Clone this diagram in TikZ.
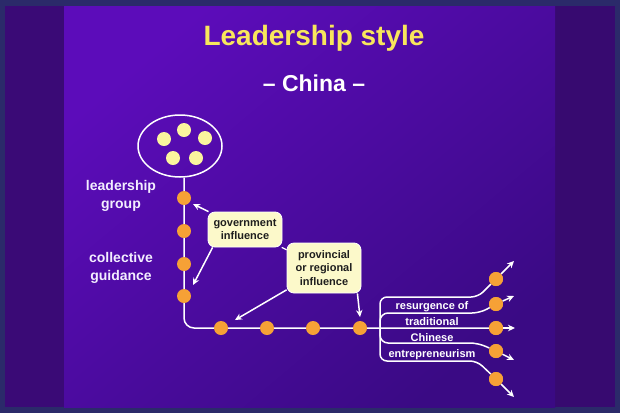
\documentclass[tikz,border=0pt]{standalone}
\usepackage{fontspec}
\setmainfont{Liberation Sans}
\usetikzlibrary{arrows.meta,shapes.geometric}
\definecolor{framec}{HTML}{2B2A6A}
\definecolor{stripl}{HTML}{3A0A76}
\definecolor{stripr}{HTML}{370A70}
\definecolor{slidetl}{HTML}{5C0CBA}
\definecolor{slidebr}{HTML}{3A0A84}
\definecolor{titley}{HTML}{F8E65C}
\definecolor{dotyel}{HTML}{FBF59E}
\definecolor{dotor}{HTML}{F6A136}
\definecolor{boxfill}{HTML}{FCF9CA}
\definecolor{boxtext}{HTML}{1E1E1E}
\definecolor{labelc}{HTML}{F3EEFF}
\begin{document}
\begin{tikzpicture}[x=1pt,y=-1pt,
  wline/.style={draw=white,line width=1.5pt},
  arr/.style={wline,-{Stealth[length=7pt,width=6.5pt]}},
  ydot/.style={circle,fill=dotyel,minimum size=14pt,inner sep=0pt},
  odot/.style={circle,fill=dotor,minimum size=14pt,inner sep=0pt},
  infobox/.style={rounded corners=7pt,fill=boxfill,draw=white,line width=0.8pt,text=boxtext,
    font=\fontsize{11}{13}\selectfont\bfseries,align=center,inner sep=2pt,minimum width=74pt},
  sidelabel/.style={text=labelc,font=\fontsize{14}{17.5}\selectfont\bfseries,align=center},
  brtext/.style={text=white,font=\fontsize{11}{13}\selectfont\bfseries,anchor=base}
]
\useasboundingbox (0,0) rectangle (620,413);
% background
\fill[framec] (0,0) rectangle (620,413);
\fill[stripl] (5,6) rectangle (64,407);
\fill[stripr] (555,6) rectangle (615,407);
\shade[top color=slidetl,bottom color=slidebr,shading angle=40] (64,6) rectangle (555,407);
% titles
\node[anchor=base,text=titley,font=\fontsize{28}{30}\selectfont\bfseries] (title) at (314,45) {Leadership style};
\node[anchor=base,text=white,font=\fontsize{23}{25}\selectfont\bfseries] (sub) at (314,91) {\textendash{} China \textendash};
% leadership group ellipse
\node[ellipse,draw=white,line width=1.5pt,minimum width=84pt,minimum height=62pt,inner sep=0pt] (grp) at (180,146) {};
\node[ydot] (y1) at (184,130) {};
\node[ydot] (y2) at (164,139) {};
\node[ydot] (y3) at (205,138) {};
\node[ydot] (y4) at (173,158) {};
\node[ydot] (y5) at (196,158) {};
% coordinates
\coordinate (cnr) at (184,328);
\coordinate (t1) at (514,261);
\coordinate (t2) at (514,296);
\coordinate (t3) at (515,328);
\coordinate (t4) at (514,360);
\coordinate (t5) at (514,397);
\coordinate (ga) at (193,204);
\coordinate (gb) at (193,285);
\coordinate (pa) at (235,320);
\coordinate (pb) at (360,317);
% right dots (positions)
\path (496,279) node[odot] (r1) {} (496,304) node[odot] (r2) {} (496,328) node[odot] (r3) {}
      (496,351) node[odot] (r4) {} (496,379) node[odot] (r5) {};
% main line
\draw[wline,rounded corners=10pt] (grp.south -| cnr) -- (cnr) -- (r3);
% bracket
\draw[wline,rounded corners=7pt] (r1) -- (478,297) -- (380,297) -- (380,361) -- (477,361) -- (r5);
\draw[wline,rounded corners=8pt] (380,327) -- (380,313) -- (480,313) -- (r2);
\draw[wline,rounded corners=8pt] (380,329) -- (380,343) -- (478,343) -- (r4);
% right arrows
\draw[arr] (r1) -- (t1);
\draw[arr] (r2) -- (t2);
\draw[arr] (r3) -- (t3);
\draw[arr] (r4) -- (t4);
\draw[arr] (r5) -- (t5);
% dots on the line
\node[odot] (o1) at (184,198) {};
\node[odot] (o2) at (184,231) {};
\node[odot] (o3) at (184,264) {};
\node[odot] (o4) at (184,296) {};
\node[odot] (h1) at (221,328) {};
\node[odot] (h2) at (267,328) {};
\node[odot] (h3) at (313,328) {};
\node[odot] (h4) at (360,328) {};
% re-draw right dots on top
\path (496,279) node[odot] {} (496,304) node[odot] {} (496,328) node[odot] {}
      (496,351) node[odot] {} (496,379) node[odot] {};
% info boxes
\node[infobox,minimum height=35pt] (gov) at (245,229.5) {government\\influence};
\node[infobox,minimum height=50pt,font=\fontsize{11}{13.5}\selectfont\bfseries] (prov) at (324,268) {provincial\\or regional\\influence};
\draw[wline,line width=1.2pt] (gov) -- (prov);
\draw[arr] (gov) -- (ga);
\draw[arr] ([xshift=5pt]gov.south west) -- (gb);
\draw[arr] (prov) -- (pa);
\draw[arr] ([xshift=-4pt]prov.south east) -- (pb);
% side labels
\node[sidelabel] (lg) at (121,196) {leadership\\group};
\node[sidelabel] (cg) at (121,268) {collective\\guidance};
% bracket text
\node[brtext] (b1) at (432,309) {resurgence of};
\node[brtext] (b2) at (432,325) {traditional};
\node[brtext] (b3) at (432,341) {Chinese};
\node[brtext] (b4) at (432,357) {entrepreneurism};
\end{tikzpicture}
\end{document}
